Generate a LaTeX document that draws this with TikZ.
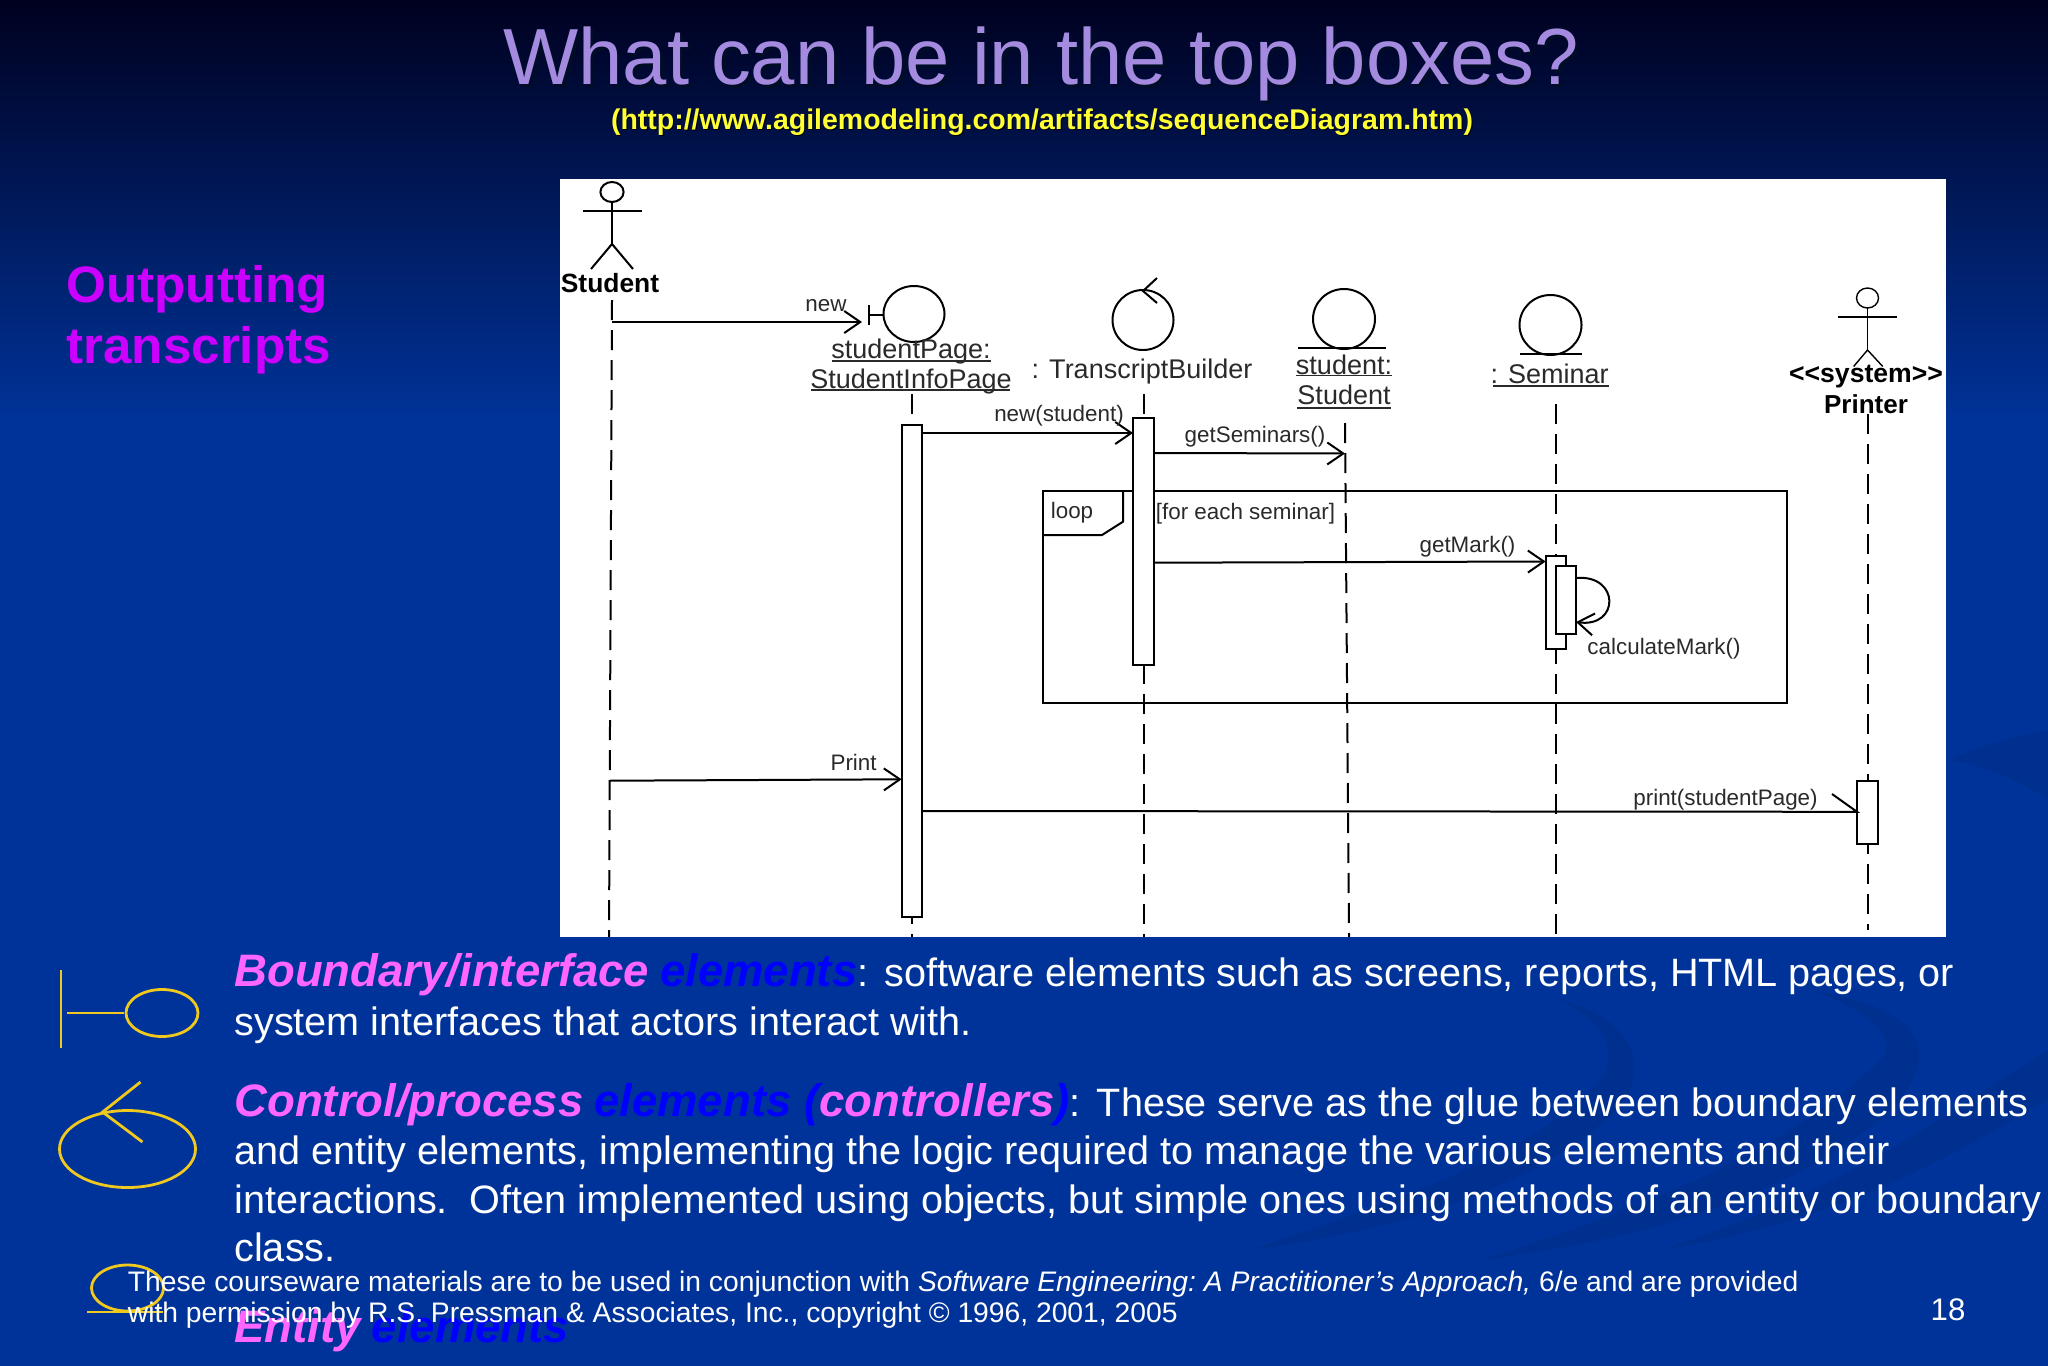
\documentclass[tikz,border=0pt]{standalone}
\usepackage{fontspec}
\setmainfont{Liberation Sans}
\usetikzlibrary{arrows.meta}

\definecolor{slideblue}{HTML}{003399}
\definecolor{slidetop}{HTML}{00001E}
\definecolor{swoosh}{HTML}{00308F}
\definecolor{titlepurple}{HTML}{A58BE0}
\definecolor{urlyellow}{HTML}{FFFF33}
\definecolor{pinkhead}{HTML}{FF66FF}
\definecolor{iconyellow}{HTML}{F0C81E}
\definecolor{inkgrey}{HTML}{2A2A2A}

\tikzset{
  umlline/.style = {draw = black, line width = 1pt},
  lifeline/.style = {umlline, dash pattern = on 10pt off 5pt},
  msgarrow/.style = {umlline, -{Straight Barb[length = 8pt, width = 11pt, line width = 1pt]}},
  actbox/.style = {umlline, fill = white},
  umllabel/.style = {inner sep = 0pt, text = inkgrey, font = \fontsize{#1}{#1}\selectfont},
  umlbold/.style = {inner sep = 0pt, text = black, font = \fontsize{#1}{#1}\selectfont\bfseries},
  uline/.style = {draw = inkgrey, line width = 0.8pt},
  yellowicon/.style = {draw = iconyellow, line width = 1.4pt},
  bodyline/.style = {anchor = base west, inner sep = 0pt, text = white, font = \fontsize{19.8}{19.8}\selectfont\frenchspacing},
  footline/.style = {anchor = base west, inner sep = 0pt, text = white, font = \fontsize{14.13}{14.13}\selectfont\frenchspacing}
}

\newcommand{\pinkhd}[1]{{\fontsize{22.75}{22.75}\selectfont\bfseries\itshape\color{pinkhead}#1}}
\newcommand{\bluehd}[1]{{\fontsize{22.75}{22.75}\selectfont\bfseries\itshape\color{blue}#1}}

\begin{document}
\begin{tikzpicture}[x = 0.5pt, y = -0.5pt]
        \useasboundingbox (0, 0) rectangle (2048, 1365);

        % slide background
        \fill[slideblue] (-5, -5) rectangle (2053, 1370);
        \shade[top color = slidetop, bottom color = slideblue] (-5, -5) rectangle (2053, 420);

        % faint swooshes
        \fill[swoosh] (1560, 1000) .. controls (1645, 1020) and (1655, 1085) .. (1600, 1125) .. controls (1520, 1190) and (1400, 1230) .. (1250, 1250) .. controls (1400, 1200) and (1540, 1150) .. (1600, 1080) .. controls (1622, 1050) and (1600, 1020) .. (1560, 1000) -- cycle;
        \fill[swoosh] (1810, 990) .. controls (1935, 1010) and (1945, 1060) .. (1880, 1120) .. controls (1780, 1200) and (1640, 1240) .. (1480, 1260) .. controls (1640, 1210) and (1790, 1150) .. (1880, 1060) .. controls (1900, 1040) and (1870, 1010) .. (1810, 990) -- cycle;
        \fill[swoosh] (2048, 1050) .. controls (1950, 1110) and (1850, 1190) .. (1660, 1250) .. controls (1850, 1220) and (1960, 1150) .. (2048, 1100) -- cycle;
        \fill[swoosh] (1950, 760) .. controls (1980, 745) and (2020, 735) .. (2048, 730) -- (2048, 800) .. controls (2020, 780) and (1980, 765) .. (1950, 760) -- cycle;

        % title
        \draw (1044, 67) node (titleshadow) [text = black!75!slideblue, font = \fontsize{39.8}{39.8}\selectfont] {What can be in the top boxes?};
        \draw (1041, 64) node (titletext) [text = titlepurple, font = \fontsize{39.8}{39.8}\selectfont] {What can be in the top boxes?};
        \draw (1043, 123) node (urlshadow) [text = black, font = \fontsize{14.25}{14.25}\selectfont\bfseries] {(http://www.agilemodeling.com/artifacts/sequenceDiagram.htm)};
        \draw (1042, 122) node (urltext) [text = urlyellow, font = \fontsize{14.25}{14.25}\selectfont\bfseries] {(http://www.agilemodeling.com/artifacts/sequenceDiagram.htm)};

        \draw (66, 302) node (outone) [anchor = base west, inner sep = 0pt, text = {rgb,255:red,204;green,0;blue,255}, font = \fontsize{25.6}{25.6}\selectfont\bfseries] {Outputting};
        \draw (66, 363) node (outtwo) [anchor = base west, inner sep = 0pt, text = {rgb,255:red,204;green,0;blue,255}, font = \fontsize{25.6}{25.6}\selectfont\bfseries] {transcripts};

        % white picture panel
        \fill[white] (560, 179) rectangle (1946, 937);

        % lifeline ends
        \coordinate (studenttop) at (612, 300);
        \coordinate (studentend) at (609, 937);
        \coordinate (pagetop) at (912, 394);
        \coordinate (pageend) at (912, 937);
        \coordinate (buildertop) at (1143.5, 394);
        \coordinate (builderend) at (1143.5, 937);
        \coordinate (entitytop) at (1345, 423);
        \coordinate (entityend) at (1349, 937);
        \coordinate (seminartop) at (1555.5, 404);
        \coordinate (seminarend) at (1555.5, 937);
        \coordinate (printertop) at (1867.5, 414);
        \coordinate (printerend) at (1867.5, 930);

        \draw[lifeline] (studenttop) -- (studentend);
        \draw[lifeline] (pagetop) -- (pageend);
        \draw[lifeline] (buildertop) -- (builderend);
        \draw[lifeline] (entitytop) -- (entityend);
        \draw[lifeline] (seminartop) -- (seminarend);
        \draw[lifeline] (printertop) -- (printerend);

        % loop frame
        \draw[umlline] (1042.7, 491) rectangle (1787, 703);
        \draw[umlline] (1042.7, 535) -- (1102, 535) -- (1123, 521.7) -- (1123, 491);
        \draw (1072, 513) node (looplabel) [umllabel = 11.2] {loop};
        \draw (1245.5, 513.5) node (guardlabel) [umllabel = 11.2] {[for each seminar]};

        % activation bars
        \draw[actbox] (901.6, 425) rectangle (922, 917);
        \draw[actbox] (1133, 418) rectangle (1154, 665);
        \draw[actbox] (1545.6, 555.6) rectangle (1566, 648.6);
        \draw[actbox] (1555.5, 565.5) rectangle (1576, 634);
        \draw[actbox] (1857, 780.5) rectangle (1878, 844);

        % student actor
        \draw[umlline] (612, 192) ellipse (11.6 and 10);
        \draw[umlline] (583, 211) -- (642, 211);
        \draw[umlline] (612, 202) -- (612, 244);
        \draw[umlline] (591, 269) -- (612, 244) -- (633, 269);
        \draw (610, 283) node (studentlabel) [umlbold = 13.2] {Student};

        % printer actor
        \draw[umlline, line width = 0.7pt] (1867.5, 298) ellipse (11 and 10);
        \draw[umlline, line width = 0.7pt] (1838, 317) -- (1897, 317);
        \draw[umlline, line width = 0.7pt] (1867.5, 308) -- (1867.5, 350);
        \draw[umlline, line width = 0.7pt] (1853.6, 366.5) -- (1867.5, 350) -- (1882.7, 366.5);
        \draw (1866, 377) node (systemlabel) [umlbold = 13.3] {<{}<system>{}>};
        \draw (1866, 404) node (printerlabel) [umlbold = 13] {Printer};

        % boundary, control and entity objects
        \draw[umlline] (914, 314) ellipse (30.5 and 28);
        \draw[umlline] (869, 305) -- (869, 325);
        \draw[umlline] (869, 315) -- (884, 315);
        \draw (911, 352) node (pagename) [umllabel = 13.5] {studentPage:};
        \draw[uline] (832, 361) -- (991, 361);
        \draw (911, 382) node (pageclass) [umllabel = 13.5] {StudentInfoPage};
        \draw[uline] (811, 390) -- (1010, 390);

        \draw[umlline] (1143, 320) ellipse (30.5 and 30);
        \draw[umlline] (1157, 278) -- (1143, 291) -- (1157, 303);
        \draw (1142, 372) node (builderlabel) [umllabel = 13.5] {: TranscriptBuilder};

        \draw[umlline] (1344, 319) ellipse (31 and 30);
        \draw[umlline] (1298, 348) -- (1386, 348);
        \draw (1344, 365) node (entityname) [umllabel = 13.5] {student:};
        \draw[uline] (1296, 375.5) -- (1392, 375.5);
        \draw (1344, 395) node (entityclass) [umllabel = 13.5] {Student};
        \draw[uline] (1297, 408) -- (1391, 408);

        \draw[umlline] (1550.5, 325) ellipse (31 and 30);
        \draw[umlline] (1520, 354) -- (1582, 354);
        \draw (1549.5, 374) node (seminarlabel) [umllabel = 13.5] {: Seminar};
        \draw[uline] (1493, 386) -- (1609, 386);

        % messages
        \coordinate (newfrom) at (612, 322);
        \coordinate (newto) at (862, 322);
        \coordinate (buildfrom) at (922, 433);
        \coordinate (buildto) at (1133, 433);
        \coordinate (getsemfrom) at (1154, 453);
        \coordinate (getsemto) at (1345, 453.5);
        \coordinate (markfrom) at (1154, 562.7);
        \coordinate (markto) at (1545.6, 561.5);
        \coordinate (calcfrom) at (1576, 578);
        \coordinate (calcto) at (1576, 622);
        \coordinate (printfrom) at (610, 780.7);
        \coordinate (printto) at (901.6, 779.3);
        \coordinate (sendfrom) at (922, 811);
        \coordinate (sendto) at (1857, 811.8);
        \coordinate (sendtip) at (1832, 794);

        \draw[msgarrow] (newfrom) -- (newto);
        \draw[msgarrow] (buildfrom) -- (buildto);
        \draw[msgarrow] (getsemfrom) -- (getsemto);
        \draw[msgarrow] (markfrom) -- (markto);
        \draw[msgarrow] (printfrom) -- (printto);
        \draw[umlline] (sendfrom) -- (sendto) -- (sendtip);
        \draw[msgarrow] (calcfrom) .. controls (1620, 574) and (1620, 628) .. (calcto);

        \draw (826, 306) node (newlabel) [umllabel = 11.2] {new};
        \draw (1059, 416) node (buildlabel) [umllabel = 11.2] {new(student)};
        \draw (1255, 436.5) node (getsemlabel) [umllabel = 11.2] {getSeminars()};
        \draw (1467.5, 546.6) node (marklabel) [umllabel = 11.2] {getMark()};
        \draw (1664, 649) node (calclabel) [umllabel = 11.2] {calculateMark()};
        \draw (853.6, 762) node (printlabel) [umllabel = 11.2] {Print};
        \draw (1725.5, 799.5) node (sendlabel) [umllabel = 11.2] {print(studentPage)};

        % yellow element icons
        \draw[yellowicon] (61, 970) -- (61, 1048);
        \draw[yellowicon] (67, 1013) -- (124, 1013);
        \draw[yellowicon] (162, 1013) ellipse (36 and 23.5);
        \draw[yellowicon] (127.5, 1149) ellipse (68 and 38.5);
        \draw[yellowicon] (140.5, 1082) -- (102.6, 1112) -- (142.5, 1142);
        \draw[yellowicon] (127.5, 1288) ellipse (36 and 23);
        \draw[yellowicon] (87, 1312) -- (163, 1312);

        % explanatory text
        \draw (234, 986) node (boundaryone) [bodyline] {\pinkhd{Boundary/interface} \bluehd{elements}:\hspace{2.6pt} software elements such as screens, reports, HTML pages, or};
        \draw (234, 1035) node (boundarytwo) [bodyline] {system interfaces that actors interact with.};
        \draw (234, 1116) node (controlone) [bodyline] {\pinkhd{Control/process} \bluehd{elements (}\pinkhd{controllers}\bluehd{)}:\hspace{2.6pt} These serve as the glue between boundary elements};
        \draw (234, 1164) node (controltwo) [bodyline] {and entity elements, implementing the logic required to manage the various elements and their};
        \draw (234, 1213) node (controlthree) [bodyline] {interactions.\ \ Often implemented using objects, but simple ones using methods of an entity or boundary};
        \draw (234, 1261) node (controlfour) [bodyline] {class.};
        \draw (234, 1342) node (entityone) [bodyline] {\pinkhd{Entity} \bluehd{elements}};

        % footer
        \draw (127.5, 1291) node (footone) [footline] {These courseware materials are to be used in conjunction with \textit{Software Engineering: A Practitioner’s Approach,} 6/e and are provided};
        \draw (127.5, 1322) node (foottwo) [footline] {with permission by R.S. Pressman \& Associates, Inc., copyright © 1996, 2001, 2005};
        \draw (1948, 1320) node (pagenumber) [anchor = base, inner sep = 0pt, text = white, font = \fontsize{15.6}{15.6}\selectfont] {18};
\end{tikzpicture}
\end{document}
